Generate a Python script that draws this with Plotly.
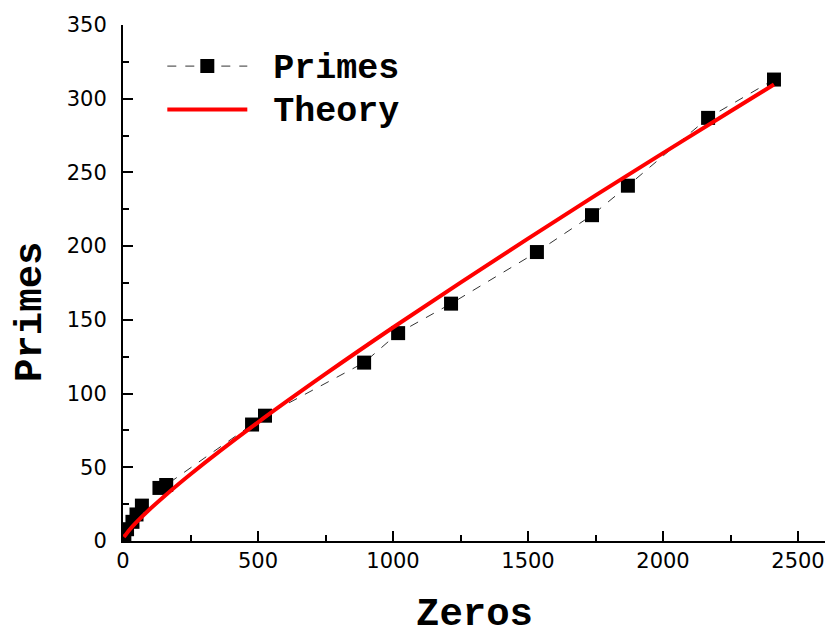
import plotly.graph_objects as go

# Data
zeros = [5, 15, 35, 50, 70, 135, 160, 478, 526, 893, 1019, 1215, 1533, 1737, 1870, 2167, 2411]
primes = [3, 8, 13, 18, 24, 36, 38, 79, 85, 121, 141, 161, 196, 221, 241, 287, 313]

theory_x = [3, 10, 25, 50, 100, 150, 250, 500, 750, 1000, 1250, 1500, 1750, 2000, 2250, 2411]
theory_y = [2.7, 4.3, 7.8, 12.8, 21.7, 29.9, 45.3, 80.5, 113.3, 144.8, 175.3, 205.1, 234.4, 263.1, 291.5, 309.6]

x_ticks = [0, 500, 1000, 1500, 2000, 2500]
y_ticks = [0, 50, 100, 150, 200, 250, 300, 350]

mono = "Liberation Mono"
sans = "DejaVu Sans"

fig = go.Figure()
fig.add_trace(go.Scatter(
    x=zeros, y=primes, mode="lines+markers",
    name="<span style='font-size:35px'> Primes</span>",
    line=dict(color="#333333", width=1, dash="dash"),
    marker=dict(symbol="square", size=14, color="black"),
))
fig.add_trace(go.Scatter(
    x=theory_x, y=theory_y, mode="lines",
    name="<span style='font-size:35px'> Theory</span>",
    line=dict(color="#ff0000", width=4, shape="spline"),
))

axis_common = dict(
    showline=True, linecolor="black", linewidth=2,
    ticks="inside", ticklen=10, tickwidth=1.5, tickcolor="black",
    showgrid=False, zeroline=False, mirror=False, automargin=False,
    tickfont=dict(family=sans, size=21, color="black"),
)

fig.update_xaxes(
    range=[0, 2600], tickvals=x_ticks,
    minor=dict(ticks="inside", ticklen=6, tickwidth=1.5, tickcolor="black", dtick=250, tick0=0),
    **axis_common,
)
fig.update_yaxes(
    range=[0, 350], tickvals=y_ticks, ticklabelstandoff=10,
    minor=dict(ticks="inside", ticklen=6, tickwidth=1.5, tickcolor="black", dtick=25, tick0=0),
    **axis_common,
)

fig.add_annotation(
    text="Primes", xref="paper", yref="paper", x=-0.131, y=0.444,
    xanchor="center", yanchor="middle", textangle=-90, showarrow=False,
    font=dict(family=mono, size=39, color="black", weight="bold"),
)
fig.add_annotation(
    text="Zeros", xref="paper", yref="paper", x=0.5, y=-0.143,
    xanchor="center", yanchor="middle", showarrow=False,
    font=dict(family=mono, size=39, color="black", weight="bold"),
)

fig.update_layout(
    width=826, height=630,
    margin=dict(l=123, r=1, t=25, b=89, autoexpand=False),
    plot_bgcolor="white", paper_bgcolor="white",
    showlegend=True,
    legend=dict(
        x=0.056, y=0.972, xanchor="left", yanchor="top",
        font=dict(family=mono, size=31, color="black", weight="bold"),
        bgcolor="rgba(0,0,0,0)", itemwidth=80, tracegroupgap=0,
    ),
)

fig.write_html(
    "out.html",
    config={"displayModeBar": False},
    post_script="document.body.style.margin='0';document.body.style.overflow='hidden';",
)
